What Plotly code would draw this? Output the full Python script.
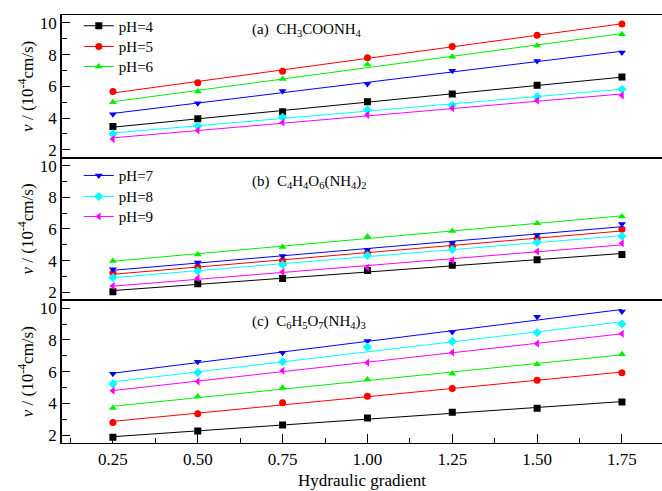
import numpy as np
import plotly.graph_objects as go
from plotly.subplots import make_subplots

gradient = [0.25, 0.50, 0.75, 1.00, 1.25, 1.50, 1.75]
ph_labels = ["pH=4", "pH=5", "pH=6", "pH=7", "pH=8", "pH=9"]

# (a) CH3COONH4
a_ph4 = [3.47, 3.95, 4.39, 5.02, 5.52, 6.07, 6.59]
a_ph5 = [5.67, 6.23, 6.95, 7.81, 8.52, 9.23, 9.94]
a_ph6 = [5.00, 5.67, 6.47, 7.37, 7.87, 8.58, 9.28]
a_ph7 = [4.24, 4.94, 5.71, 6.15, 6.99, 7.60, 8.14]
a_ph8 = [3.00, 3.50, 4.05, 4.52, 4.81, 5.35, 5.82]
a_ph9 = [2.67, 3.21, 3.72, 4.20, 4.62, 5.10, 5.42]

# (b) C4H4O6(NH4)2
b_ph4 = [2.04, 2.54, 2.87, 3.39, 3.71, 4.06, 4.39]
b_ph5 = [3.22, 3.60, 4.00, 4.48, 4.91, 5.38, 5.98]
b_ph6 = [3.98, 4.39, 4.87, 5.52, 5.87, 6.37, 6.79]
b_ph7 = [3.46, 3.89, 4.29, 4.69, 5.12, 5.62, 6.31]
b_ph8 = [2.94, 3.35, 3.75, 4.33, 4.71, 5.16, 5.54]
b_ph9 = [2.41, 2.90, 3.29, 3.56, 4.02, 4.58, 5.10]

# (c) C6H5O7(NH4)3
c_ph4 = [1.86, 2.25, 2.64, 3.07, 3.44, 3.69, 4.08]
c_ph5 = [2.80, 3.34, 4.04, 4.45, 4.93, 5.46, 5.93]
c_ph6 = [3.71, 4.43, 4.99, 5.50, 5.87, 6.47, 7.10]
c_ph7 = [5.87, 6.63, 7.19, 7.93, 8.51, 9.46, 9.80]
c_ph8 = [5.23, 5.95, 6.63, 7.56, 7.91, 8.47, 9.01]
c_ph9 = [4.80, 5.38, 6.06, 6.57, 7.21, 7.77, 8.39]

panels = [
    [a_ph4, a_ph5, a_ph6, a_ph7, a_ph8, a_ph9],
    [b_ph4, b_ph5, b_ph6, b_ph7, b_ph8, b_ph9],
    [c_ph4, c_ph5, c_ph6, c_ph7, c_ph8, c_ph9],
]
panel_titles = [
    "(a)  CH<sub>3</sub>COONH<sub>4</sub>",
    "(b)  C<sub>4</sub>H<sub>4</sub>O<sub>6</sub>(NH<sub>4</sub>)<sub>2</sub>",
    "(c)  C<sub>6</sub>H<sub>5</sub>O<sub>7</sub>(NH<sub>4</sub>)<sub>3</sub>",
]

colors = ["#000000", "#ff0000", "#00ee00", "#0000ff", "#00ffff", "#ff00ff"]
symbols = ["square", "circle", "triangle-up", "triangle-down", "diamond", "triangle-left"]

FONT = "Liberation Serif, Times New Roman, Times, serif"

fig = make_subplots(rows=3, cols=1, shared_xaxes=True, vertical_spacing=0)

xg = np.array(gradient)
for r, series in enumerate(panels, start=1):
    for i, vals in enumerate(series):
        k, b0 = np.polyfit(xg, np.array(vals), 1)
        fig.add_trace(go.Scatter(
            x=gradient, y=list(k * xg + b0), mode="lines",
            line=dict(color=colors[i], width=1), showlegend=False,
            hoverinfo="skip"), row=r, col=1)
        fig.add_trace(go.Scatter(
            x=gradient, y=vals, mode="markers",
            marker=dict(color=colors[i], symbol=symbols[i], size=7),
            showlegend=False), row=r, col=1)

W, H = 662, 491
ml, mr, mt, mb = 62, 0, 15, 48
plot_h = H - mt - mb

# legend-only entries, one legend per item for exact placement
legend_centers = [26, 46.7, 66.7, 175.7, 196.7, 216.7]
legend_layout = {}
for i in range(6):
    key = "legend" if i == 0 else f"legend{i + 1}"
    fig.add_trace(go.Scatter(
        x=[None], y=[None], mode="lines+markers", name=ph_labels[i],
        line=dict(color=colors[i], width=1),
        marker=dict(color=colors[i], symbol=symbols[i], size=7),
        legend=key), row=1, col=1)
    legend_layout[key] = dict(
        x=0.028, y=(H - mb - legend_centers[i]) / plot_h,
        xanchor="left", yanchor="middle",
        font=dict(family=FONT, size=15), bgcolor="rgba(0,0,0,0)",
        tracegroupgap=0, itemwidth=30)

fig.update_layout(
    width=W, height=H,
    margin=dict(l=ml, r=mr, t=mt, b=mb, autoexpand=False),
    paper_bgcolor="white", plot_bgcolor="white",
    font=dict(family=FONT, size=16, color="black"),
    **legend_layout,
)

for r in range(1, 4):
    fig.update_yaxes(
        range=[1.5, 10.5], tickvals=[2, 4, 6, 8, 10], ticks="inside", ticklen=8,
        tickwidth=1, tickcolor="black", showline=True, linecolor="black", linewidth=1.5,
        showgrid=False, zeroline=False, mirror=False, automargin=False,
        minor=dict(tickvals=[3, 5, 7, 9], ticks="inside", ticklen=5, tickcolor="black"),
        tickfont=dict(family=FONT, size=17),
        title=dict(text="<i>v</i> / (10<sup>-4</sup>cm/s)", font=dict(family=FONT, size=17),
                   standoff=2),
        row=r, col=1)
    fig.update_xaxes(
        range=[0.1, 1.868], showline=True, linecolor="black", linewidth=1.2,
        mirror=True, showgrid=False, zeroline=False, automargin=False,
        row=r, col=1)

fig.update_xaxes(showticklabels=False, ticks="", row=1, col=1)
fig.update_xaxes(showticklabels=False, ticks="", row=2, col=1)
fig.update_xaxes(
    tickvals=gradient, ticktext=["0.25", "0.50", "0.75", "1.00", "1.25", "1.50", "1.75"],
    ticks="inside", ticklen=9, tickcolor="black", showticklabels=True,
    minor=dict(tickvals=[0.125, 0.375, 0.625, 0.875, 1.125, 1.375, 1.625],
               ticks="inside", ticklen=5, tickcolor="black"),
    tickfont=dict(family=FONT, size=17),
    title=dict(text="Hydraulic gradient", font=dict(family=FONT, size=17), standoff=6),
    row=3, col=1)

ytext = [0.965, 0.610, 0.283]
for t, yy in zip(panel_titles, ytext):
    fig.add_annotation(text=t, xref="paper", yref="paper", x=0.313, y=yy,
                       xanchor="left", yanchor="middle", showarrow=False,
                       font=dict(family=FONT, size=15))

fig.write_html("out.html", config={"displayModeBar": False},
               post_script="document.body.style.margin='0';document.body.style.overflow='hidden';")
